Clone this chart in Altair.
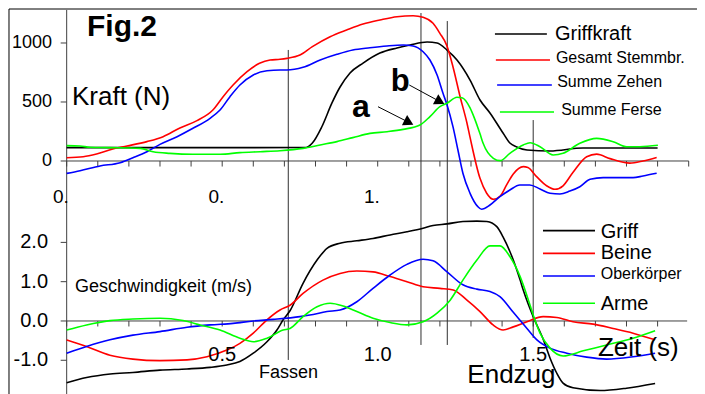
import altair as alt
import pandas as pd

# ---------------- data ----------------
# Top panel: forces (N) over time (s)
griffkraft_t = [0.0, 0.2, 0.4, 0.6, 0.77, 0.79, 0.82, 0.853, 0.879, 0.911, 0.953, 1.007, 1.062, 1.104,
                1.159, 1.191, 1.223, 1.255, 1.297, 1.329, 1.361, 1.403, 1.425, 1.447, 1.48, 1.554, 1.66,
                1.77, 1.90]
griffkraft_n = [113, 113, 113, 113, 115, 152, 288, 492, 627, 746, 830, 915, 958, 983,
                1008, 1000, 940, 856, 686, 517, 407, 237, 152, 119, 93, 85, 110,
                110, 110]

gesamt_t = [0.0, 0.053, 0.096, 0.148, 0.194, 0.258, 0.31, 0.364, 0.419, 0.47, 0.503, 0.535, 0.58,
            0.62, 0.654, 0.686, 0.708, 0.75, 0.79, 0.847, 0.9, 0.953, 1.007, 1.062, 1.114, 1.146,
            1.178, 1.2, 1.222, 1.242, 1.265, 1.287, 1.297, 1.329, 1.35, 1.372, 1.394, 1.415, 1.436,
            1.468, 1.483, 1.511, 1.543, 1.57, 1.596, 1.627, 1.672, 1.704, 1.747, 1.811, 1.853, 1.897]
gesamt_n = [28, 36, 59, 102, 127, 164, 206, 280, 342, 432, 545, 644, 757,
            828, 856, 862, 870, 898, 969, 1053, 1110, 1161, 1195, 1223, 1231, 1218,
            1167, 1082, 980, 799, 545, 322, 200, -147, -271, -325, -297, -200, -110,
            -48, -55, -133, -210, -240, -210, -100, 36, 58, 20, -18, 0, 30]

zehen_t = [0.0, 0.043, 0.107, 0.172, 0.213, 0.258, 0.3, 0.355, 0.406, 0.461, 0.493, 0.525, 0.557,
           0.6, 0.644, 0.686, 0.708, 0.76, 0.815, 0.869, 0.92, 0.975, 1.03, 1.082, 1.114, 1.146,
           1.168, 1.191, 1.21, 1.223, 1.242, 1.258, 1.274, 1.297, 1.322, 1.334, 1.361, 1.393, 1.425,
           1.457, 1.489, 1.522, 1.554, 1.586, 1.618, 1.65, 1.683, 1.725, 1.779, 1.821, 1.853, 1.897]
zehen_n = [-105, -82, -42, -14, 28, 79, 141, 206, 277, 362, 432, 545, 644,
           729, 765, 771, 771, 794, 856, 904, 941, 960, 975, 983, 975, 926,
           856, 729, 574, 475, 291, 93, -104, -274, -387, -409, -373, -302, -246,
           -203, -203, -237, -274, -280, -255, -218, -155, -141, -141, -141, -127, -104]

ferse_t = [0.0, 0.043, 0.075, 0.139, 0.236, 0.278, 0.332, 0.406, 0.493, 0.557, 0.622, 0.686, 0.76,
           0.815, 0.869, 0.92, 0.975, 1.03, 1.082, 1.136, 1.168, 1.2, 1.223, 1.255, 1.271, 1.297,
           1.31, 1.329, 1.339, 1.372, 1.394, 1.425, 1.468, 1.49, 1.522, 1.564, 1.596, 1.65, 1.704,
           1.757, 1.801, 1.843, 1.901]
ferse_n = [130, 127, 116, 113, 107, 79, 65, 57, 57, 71, 79, 87, 107,
           136, 164, 198, 234, 248, 268, 305, 376, 460, 489, 540, 536, 450,
           370, 230, 150, 23, 3, 65, 136, 155, 121, 51, 65, 150, 192,
           164, 121, 121, 133]

# Bottom panel: velocities (m/s) over time (s)
griff_t = [0.0, 0.064, 0.14, 0.213, 0.3, 0.387, 0.461, 0.515, 0.557, 0.6, 0.644, 0.676, 0.696, 0.718,
           0.76, 0.805, 0.837, 0.879, 0.933, 0.985, 1.04, 1.094, 1.146, 1.178, 1.223, 1.274, 1.319,
           1.351, 1.383, 1.403, 1.436, 1.458, 1.468, 1.5, 1.533, 1.554, 1.576, 1.596, 1.628, 1.715,
           1.8, 1.892]
griff_v = [-1.57, -1.44, -1.35, -1.31, -1.25, -1.22, -1.18, -1.12, -1.03, -0.82, -0.53, -0.23, 0.03, 0.26,
           0.96, 1.55, 1.85, 1.98, 2.04, 2.10, 2.19, 2.27, 2.36, 2.43, 2.47, 2.53, 2.54,
           2.53, 2.40, 2.14, 1.55, 1.04, 0.79, 0.11, -0.48, -0.94, -1.33, -1.58, -1.70, -1.77,
           -1.71, -1.59]

beine_t = [0.0, 0.064, 0.139, 0.213, 0.3, 0.387, 0.451, 0.515, 0.557, 0.6, 0.644, 0.686, 0.718, 0.76,
           0.824, 0.879, 0.933, 0.985, 1.04, 1.094, 1.146, 1.2, 1.243, 1.287, 1.329, 1.371, 1.403,
           1.436, 1.48, 1.532, 1.576, 1.628, 1.693, 1.757, 1.821, 1.892]
beine_v = [-0.48, -0.65, -0.87, -0.97, -1.01, -0.99, -0.91, -0.74, -0.57, -0.31, 0.03, 0.28, 0.40, 0.70,
           1.04, 1.21, 1.27, 1.25, 1.13, 1.00, 0.87, 0.83, 0.79, 0.53, 0.24, -0.10, -0.23,
           -0.15, -0.02, 0.11, 0.09, -0.02, -0.08, -0.19, -0.31, -0.48]

ober_t = [0.0, 0.064, 0.139, 0.213, 0.3, 0.387, 0.461, 0.535, 0.6, 0.664, 0.75, 0.782, 0.837, 0.879,
          0.933, 0.985, 1.04, 1.094, 1.146, 1.178, 1.223, 1.274, 1.319, 1.361, 1.393, 1.436, 1.48,
          1.512, 1.554, 1.608, 1.672, 1.736, 1.821, 1.892]
ober_v = [-0.82, -0.65, -0.48, -0.36, -0.27, -0.16, -0.10, -0.06, 0.0, 0.04, 0.11, 0.15, 0.24, 0.28,
          0.49, 0.83, 1.17, 1.44, 1.57, 1.53, 1.25, 0.92, 0.81, 0.75, 0.62, 0.22, -0.19,
          -0.48, -0.69, -0.82, -0.92, -0.97, -0.91, -0.82]

arme_t = [0.0, 0.064, 0.139, 0.213, 0.3, 0.374, 0.429, 0.493, 0.557, 0.6, 0.644, 0.696, 0.718, 0.76,
          0.805, 0.847, 0.889, 0.933, 0.985, 1.04, 1.094, 1.146, 1.191, 1.233, 1.274, 1.319, 1.361,
          1.393, 1.425, 1.458, 1.49, 1.5, 1.522, 1.554, 1.596, 1.661, 1.736, 1.821, 1.892]
arme_v = [-0.23, -0.10, 0.01, 0.05, 0.07, 0.01, -0.10, -0.23, -0.44, -0.53, -0.44, -0.23, -0.19, 0.11,
          0.36, 0.45, 0.38, 0.24, 0.07, -0.04, -0.10, -0.02, 0.20, 0.53, 1.04, 1.55, 1.91,
          1.91, 1.64, 1.13, 0.40, 0.15, -0.31, -0.69, -0.89, -0.76, -0.61, -0.44, -0.25]

top_names = ["Griffkraft", "Gesamt Stemmbr.", "Summe Zehen", "Summe Ferse"]
bot_names = ["Griff", "Beine", "Oberkörper", "Arme"]
line_colors = ["#000000", "#ff0000", "#0000ff", "#00ff00"]

# axis ticks and labels
x_ticks = [0.0, 0.1, 0.2, 0.3, 0.4, 0.5, 0.6, 0.7, 0.8, 0.9, 1.0, 1.1, 1.2, 1.3, 1.4, 1.5, 1.6, 1.7,
           1.8, 1.9, 2.0]
top_y_ticks = [0, 500, 1000]
top_y_labels = ["0", "500", "1000"]
top_x_label_pos = [0.0, 0.5, 1.0]
top_x_labels = ["0.", "0.", "1."]
bot_y_ticks = [-1, 0, 1, 2]
bot_y_labels = ["-1.0", "0.0", "1.0", "2.0"]
bot_x_label_pos = [0.5, 1.0, 1.5]
bot_x_labels = ["0.5", "1.0", "1.5"]

# event markers (s) and their extents (N)
event_t = [0.7125, 1.1392, 1.2238, 1.5]
event_top = [941, 1254, 1186, 347]
event_bottom = [-1686, -1559, -1559, -1500]

# ---------------- scales ----------------
W, H = 689, 386
X_DOM = [-0.1887, 2.0267]
TOP_DOM = [-1974.6, 1296.6]
BOT_DOM = [-1.858, 7.964]
FONT = "Liberation Sans"
AX = "#404040"

xsc = alt.Scale(domain=X_DOM, nice=False, zero=False)
ytop = alt.Scale(domain=TOP_DOM, nice=False, zero=False)
ybot = alt.Scale(domain=BOT_DOM, nice=False, zero=False)


def ex(f="t"):
    return alt.X(f"{f}:Q", scale=xsc, axis=None)


def ey(f, sc):
    return alt.Y(f"{f}:Q", scale=sc, axis=None)


def series_df(names, ts, vs):
    rows = []
    for name, col, t, v in zip(names, line_colors, ts, vs):
        assert len(t) == len(v), name
        rows += [{"series": name, "c": col, "t": a, "v": b} for a, b in zip(t, v)]
    return pd.DataFrame(rows)


def lines(df, sc):
    return alt.Chart(df).mark_line(interpolate="monotone", strokeWidth=1.6).encode(
        x=ex(), y=ey("v", sc), detail="series:N",
        color=alt.Color("c:N", scale=None))


def hrules(x1, x2, y, sc, color=AX, width=1.0):
    df = pd.DataFrame({"x1": x1, "x2": x2, "y": y})
    return alt.Chart(df).mark_rule(color=color, strokeWidth=width).encode(
        x=ex("x1"), x2="x2:Q", y=ey("y", sc))


def vrules(x, y1, y2, sc, color=AX, width=1.0):
    df = pd.DataFrame({"x": x, "y1": y1, "y2": y2})
    return alt.Chart(df).mark_rule(color=color, strokeWidth=width).encode(
        x=ex("x"), y=ey("y1", sc), y2="y2:Q")


def label(texts, xs, ys, sc, size, align="left", weight="normal", baseline="middle"):
    df = pd.DataFrame({"t": xs, "y": ys, "s": texts})
    return alt.Chart(df).mark_text(font=FONT, fontSize=size, align=align, baseline=baseline,
                                   fontWeight=weight, color="black").encode(
        x=ex("t"), y=ey("y", sc), text="s:N")


top_df = series_df(top_names, [griffkraft_t, gesamt_t, zehen_t, ferse_t],
                   [griffkraft_n, gesamt_n, zehen_n, ferse_n])
bot_df = series_df(bot_names, [griff_t, beine_t, ober_t, arme_t],
                   [griff_v, beine_v, ober_v, arme_v])

tick_len_t = 0.0193
layers = [
    # frame
    hrules([-0.1855], [X_DOM[1]], [1288], ytop, color="#000000"),
    vrules([-0.1855], [1288], [TOP_DOM[0]], ytop, color="#000000"),
    # axes of the upper panel
    hrules([0.0], [2.0], [0], ytop),
    vrules(x_ticks, [0] * len(x_ticks), [-47] * len(x_ticks), ytop),
    vrules([0.0], [1280], [TOP_DOM[0]], ytop),
    hrules([-tick_len_t] * 3, [0.0] * 3, top_y_ticks, ytop),
    # axes of the lower panel
    hrules([0.0], [1.995], [0], ybot),
    vrules(x_ticks[:-1], [0] * 20, [-0.14] * 20, ybot),
    hrules([-tick_len_t] * 4, [0.0] * 4, bot_y_ticks, ybot),
    # event markers
    vrules(event_t, event_top, event_bottom, ytop, color="#303030"),
    # data
    lines(top_df, ytop),
    lines(bot_df, ybot),
    # tick labels
    label(top_y_labels, [-0.047] * 3, top_y_ticks, ytop, 18, align="right"),
    label(top_x_labels, [p - 0.044 for p in top_x_label_pos], [-305] * 3, ytop, 19),
    label(bot_y_labels, [-0.060] * 4, bot_y_ticks, ybot, 20, align="right"),
    label(bot_x_labels, bot_x_label_pos, [-0.865] * 3, ybot, 20, align="center"),
    # titles and annotations
    label(["Fig.2"], [0.0653], [1136], ytop, 30, weight="bold"),
    label(["Kraft (N)"], [0.017], [545], ytop, 26),
    label(["a"], [0.917], [373], ytop, 32, weight="bold", baseline="alphabetic"),
    label(["b"], [1.042], [593], ytop, 31, weight="bold", baseline="alphabetic"),
    label(["Geschwindigkeit (m/s)"], [0.0267], [0.865], ybot, 18),
    label(["Zeit (s)"], [1.708], [-0.687], ybot, 26),
    label(["Endzug"], [1.430], [-1.374], ybot, 26, align="center"),
    label(["Fassen"], [0.713], [-1.316], ybot, 18, align="center"),
]

# arrows for a and b
arrow_df = pd.DataFrame({"x1": [1.001, 1.1016], "y1": [460, 644],
                         "x2": [1.1004, 1.2003], "y2": [327, 503], "ang": [117, 118]})
layers.append(alt.Chart(arrow_df).mark_rule(color="black", strokeWidth=1).encode(
    x=ex("x1"), x2="x2:Q", y=ey("y1", ytop), y2="y2:Q"))
layers.append(alt.Chart(arrow_df).mark_point(shape="triangle-up", filled=True, size=130,
                                              color="black", opacity=1).encode(
    x=ex("x2"), y=ey("y2", ytop), angle=alt.Angle("ang:Q", scale=None)))

# legends (upper and lower)
top_leg_y_line = [1076, 856, 644, 415]
top_leg_y_text = [1076, 875, 672, 432]
top_leg_x1 = [1.377, 1.380, 1.384, 1.393]
top_leg_x2 = [1.544, 1.554, 1.560, 1.567]
top_leg_xt = [1.570, 1.573, 1.577, 1.590]
top_leg_size = [20, 16, 16, 16]
for i in range(4):
    layers.append(hrules([top_leg_x1[i]], [top_leg_x2[i]], [top_leg_y_line[i]], ytop,
                         color=line_colors[i], width=1.6))
    layers.append(label([top_names[i]], [top_leg_xt[i]], [top_leg_y_text[i]], ytop, top_leg_size[i]))

bot_leg_y_line = [2.30, 1.72, 1.145, 0.45]
bot_leg_y_text = [2.27, 1.73, 1.196, 0.433]
bot_leg_size = [20, 20, 16, 20]
for i in range(4):
    layers.append(hrules([1.5315], [1.6987], [bot_leg_y_line[i]], ybot,
                         color=line_colors[i], width=1.6))
    layers.append(label([bot_names[i]], [1.717], [bot_leg_y_text[i]], ybot, bot_leg_size[i]))

chart = alt.layer(*layers).resolve_scale(y="independent").properties(
    width=W, height=H, padding=0, autosize="none", background="white"
).configure_view(stroke=None)

chart.save("out.html", embed_options={"renderer": "svg", "actions": False})
